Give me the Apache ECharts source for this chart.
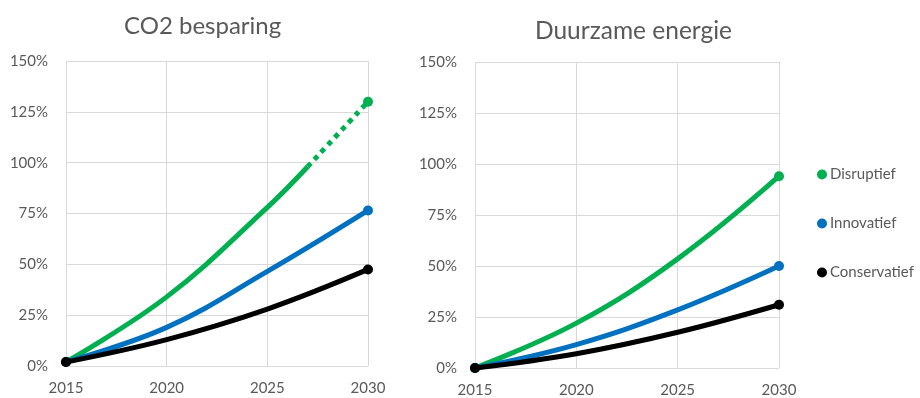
<!DOCTYPE html>
<html><head><meta charset="utf-8">
<script src="https://cdn.jsdelivr.net/npm/echarts@6/dist/echarts.min.js"></script>
<style>html,body{margin:0;padding:0;background:#fff}#c{width:920px;height:398px}</style>
</head><body><div id="c"></div>
<script>
const years = [2015,2020,2025,2030];
const co2SolidYears = [2015,2020,2025,2027];
const co2DashedYears = [2027,2030];
const xTicks = [2015,2020,2025,2030];
const yTicks = [0,25,50,75,100,125,150];
const seriesNames = ['Disruptief','Innovatief','Conservatief'];
const chartTitles = ['CO2 besparing','Duurzame energie'];
// CO2 besparing (%)
const co2Disruptief = [2,34,78,98];
const co2DisruptiefDashed = [98,130];
const co2Innovatief = [2,19,46.5,76.5];
const co2Conservatief = [2,13,28,47.5];
// Duurzame energie (%)
const deDisruptief = [0,22,53.5,94];
const deInnovatief = [0,11.5,28.5,50];
const deConservatief = [0,7,17.5,31];

const colors = {Disruptief:'#00B050', Innovatief:'#0070C0', Conservatief:'#000000'};
const txt = '#595959', grid = '#D9D9D9', FONT = 'Lato';

function line(name, xs, arr, gi, opts){
  opts = opts || {};
  const last = arr.length-1;
  const startDot = opts.startDot !== false, endDot = opts.endDot !== false;
  return {
    type:'line', name, xAxisIndex:gi, yAxisIndex:gi, data:xs.map((x,i)=>[x,arr[i]]), smooth:0.4,
    symbol:'circle', symbolSize:(v,p)=> ((p.dataIndex===0 && startDot) || (p.dataIndex===last && endDot)) ? 10 : 0,
    showSymbol:true, itemStyle:{color:colors[name]},
    lineStyle:{color:colors[name], width:5, type: opts.dashed ? [5,5] : 'solid', cap:'butt'},
    emphasis:{disabled:true}, z: opts.z || 2, animation:false
  };
}
function xAxis(gi){
  return {type:'value', gridIndex:gi, min:xTicks[0], max:xTicks[xTicks.length-1], interval:5,
    axisLine:{show:false}, axisTick:{show:false},
    splitLine:{show:true, lineStyle:{color:grid, width:1}},
    axisLabel:{color:txt, fontSize:15, fontFamily:FONT, margin:15, formatter:v=>String(v)}};
}
function yAxis(gi){
  return {type:'value', gridIndex:gi, min:yTicks[0], max:yTicks[yTicks.length-1], interval:25,
    axisLine:{show:false}, axisTick:{show:false},
    splitLine:{show:true, lineStyle:{color:grid, width:1}},
    axisLabel:{color:txt, fontSize:15, fontFamily:FONT, margin:18, formatter:'{value}%'}};
}
const legendTops = [162, 211, 260];
const option = {
  backgroundColor:'#fff',
  animation:false,
  title:[
    {text:chartTitles[0], left:119, top:9, textStyle:{color:txt, fontSize:24, fontWeight:'normal', fontFamily:FONT}},
    {text:chartTitles[1], left:530, top:14, textStyle:{color:txt, fontSize:24.5, fontWeight:'normal', fontFamily:FONT}}
  ],
  legend: seriesNames.map((n,i)=>({data:[n], left:812, top:legendTops[i], icon:'circle', itemWidth:10, itemHeight:10, itemGap:4,
    textStyle:{color:txt, fontSize:15, fontFamily:FONT, padding:[0,0,0,-2]}, selectedMode:false})),
  grid:[
    {left:66, top:61, width:302, height:305},
    {left:475, top:62, width:304, height:306}
  ],
  xAxis:[xAxis(0), xAxis(1)],
  yAxis:[yAxis(0), yAxis(1)],
  series:[
    line('Disruptief', co2SolidYears, co2Disruptief, 0, {endDot:false, z:2}),
    line('Disruptief', co2DashedYears, co2DisruptiefDashed, 0, {dashed:true, startDot:false, z:2}),
    line('Innovatief', years, co2Innovatief, 0, {z:3}),
    line('Conservatief', years, co2Conservatief, 0, {z:4}),
    line('Disruptief', years, deDisruptief, 1, {z:2}),
    line('Innovatief', years, deInnovatief, 1, {z:3}),
    line('Conservatief', years, deConservatief, 1, {z:4})
  ]
};
const chart = echarts.init(document.getElementById('c'), null, {renderer:'canvas'});
chart.setOption(option);
</script></body></html>
